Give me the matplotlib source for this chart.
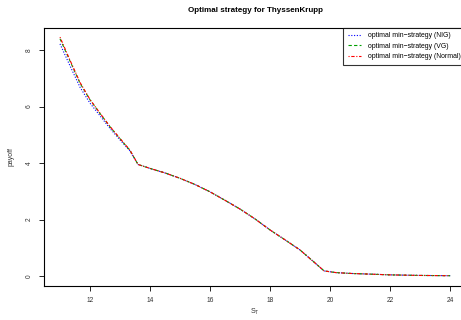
import numpy as np
import matplotlib
matplotlib.use("Agg")
import matplotlib.pyplot as plt

plt.rcParams['font.family'] = ['Liberation Sans', 'DejaVu Sans']

# stock price at maturity
S_T = [11.0, 11.33, 11.67, 12.0, 12.33, 12.67, 13.0, 13.33, 13.6, 14.0, 14.5,
       15.0, 15.5, 16.0, 16.5, 17.0, 17.5, 18.0, 18.5, 19.0, 19.5, 19.8,
       20.2, 20.7, 21.5, 22.0, 23.0, 24.0]

# payoff of optimal min-strategy for the three models
tail = [3.95, 3.81, 3.65, 3.46, 3.24, 2.98, 2.68, 2.37, 2.02, 1.63, 1.28,
        0.92, 0.46, 0.18, 0.12, 0.09, 0.06, 0.04, 0.02, 0.01]
payoff_nig = [8.22, 7.45, 6.68, 6.12, 5.68, 5.22, 4.82, 4.43] + tail
payoff_vg = [8.40, 7.62, 6.82, 6.24, 5.76, 5.28, 4.86, 4.45] + tail
payoff_normal = [8.46, 7.65, 6.85, 6.25, 5.77, 5.29, 4.87, 4.46] + tail

labels = ['optimal min\u2212strategy (NIG)',
          'optimal min\u2212strategy (VG)',
          'optimal min\u2212strategy (Normal)']

fig = plt.figure(figsize=(4.61, 3.2), dpi=100)
ax = fig.add_axes([0.0963, 0.1075, 0.914, 0.8065])

ax.plot(S_T, payoff_nig, color='blue', linestyle=(0, (1, 1.5)), lw=0.8, label=labels[0])
ax.plot(S_T, payoff_vg, color='#00A000', linestyle=(0, (3, 2)), lw=0.8, label=labels[1])
ax.plot(S_T, payoff_normal, color='red', linestyle=(0, (1, 1.5, 3, 1.5)), lw=0.8, label=labels[2])

ax.set_xlim(10.48, 24.52)
ax.set_ylim(-0.34, 8.8)
ax.set_xticks([12, 14, 16, 18, 20, 22, 24])
ax.set_yticks([0, 2, 4, 6, 8])
ax.tick_params(direction='out', length=3.5, width=0.6, labelsize=4.8,
               colors='black', labelcolor='#333333', pad=5)
for lab in ax.get_yticklabels():
    lab.set_rotation(90)
    lab.set_va('center')
for sp in ax.spines.values():
    sp.set_linewidth(0.8)

ax.set_title('Optimal strategy for ThyssenKrupp', fontsize=5.8, fontweight='bold', pad=11)
ax.set_xlabel('S$_\\mathregular{T}$', fontsize=5.0, color='#333333', labelpad=1.5)
ax.set_ylabel('payoff', fontsize=5.0, color='#333333', labelpad=8)

leg = ax.legend(loc='upper right', fontsize=4.95, frameon=True, fancybox=False,
                edgecolor='black', handlelength=2.0, handletextpad=1.0,
                borderaxespad=0, borderpad=0.7, labelspacing=0.5)
leg.get_frame().set_linewidth(0.8)

fig.savefig('out.png', dpi=100)
